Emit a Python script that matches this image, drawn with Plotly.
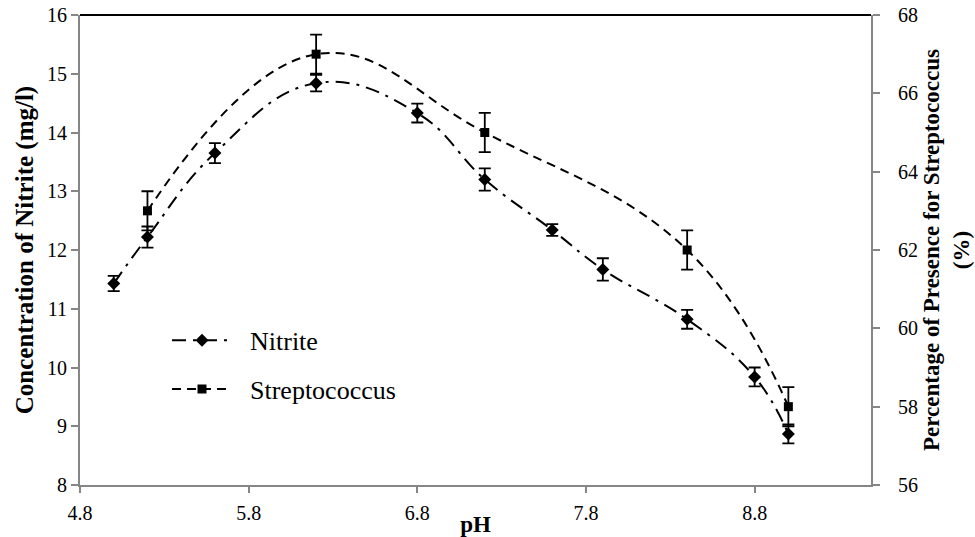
import plotly.graph_objects as go

# pH values and measurements
ph_nitrite = [5.0, 5.2, 5.6, 6.2, 6.8, 7.2, 7.6, 7.9, 8.4, 8.8, 9.0]
nitrite = [11.43, 12.22, 13.65, 14.84, 14.33, 13.20, 12.34, 11.67, 10.82, 9.84, 8.87]
nitrite_err = [0.13, 0.18, 0.17, 0.14, 0.16, 0.19, 0.10, 0.19, 0.16, 0.16, 0.16]

ph_strep = [5.2, 6.2, 7.2, 8.4, 9.0]
strep = [63.0, 67.0, 65.0, 62.0, 58.0]
strep_err = [0.5, 0.5, 0.5, 0.5, 0.5]

x_ticks = [4.8, 5.8, 6.8, 7.8, 8.8]

FONT = "Liberation Serif"
GRAY = "#868686"
PAD = "\u00a0\u00a0"  # small gap between legend symbol and label

fig = go.Figure()

fig.add_trace(go.Scatter(
    x=ph_nitrite, y=nitrite, name=PAD + "Nitrite", mode="lines+markers",
    line=dict(color="black", width=2, shape="spline", smoothing=1.2,
              dash="14px,7px,3px,7px"),
    marker=dict(symbol="diamond", size=10, color="black"),
    error_y=dict(type="data", array=nitrite_err, color="black",
                 thickness=1.8, width=6),
    legendgroup="a",
))

fig.add_trace(go.Scatter(
    x=ph_strep, y=strep, name=PAD + "Streptococcus", mode="lines+markers",
    yaxis="y2",
    line=dict(color="black", width=2, shape="spline", smoothing=1.2,
              dash="9px,6px"),
    marker=dict(symbol="square", size=9, color="black"),
    error_y=dict(type="data", array=strep_err, color="black",
                 thickness=1.8, width=6),
    legendgroup="b",
))

fig.update_layout(
    width=975, height=537,
    margin=dict(l=80, r=104, t=15, b=52),
    paper_bgcolor="white", plot_bgcolor="white",
    font=dict(family=FONT, size=20, color="black"),
    showlegend=True,
    legend=dict(x=0.11, y=0.358, xanchor="left", yanchor="top",
                bgcolor="rgba(0,0,0,0)", font=dict(family=FONT, size=26),
                itemwidth=60, tracegroupgap=12),
    xaxis=dict(
        range=[4.8, 9.49], tickvals=x_ticks, tickformat=".1f",
        showline=True, linecolor=GRAY, linewidth=2,
        ticks="outside", tickcolor=GRAY, ticklen=6, tickwidth=1.5,
        showgrid=False, zeroline=False, ticklabelstandoff=3,
        automargin=False,
        tickfont=dict(family=FONT, size=20),
        title=dict(text="<b>pH</b>", font=dict(family=FONT, size=23), standoff=4),
    ),
    yaxis=dict(
        range=[8, 16], dtick=1,
        showline=True, linecolor=GRAY, linewidth=2,
        ticks="outside", tickcolor=GRAY, ticklen=7, tickwidth=1.5,
        showgrid=False, zeroline=False, automargin=False,
        tickfont=dict(family=FONT, size=20),
        title=dict(text="<b>Concentration of Nitrite (mg/l)</b>",
                   font=dict(family=FONT, size=25), standoff=6),
    ),
    yaxis2=dict(
        range=[56, 68], dtick=2, overlaying="y", side="right",
        showline=True, linecolor=GRAY, linewidth=2,
        ticks="outside", tickcolor=GRAY, ticklen=7, tickwidth=1.5,
        showgrid=False, zeroline=False, ticklabelstandoff=14,
        automargin=False,
        tickfont=dict(family=FONT, size=20),
        title=dict(text="<b>Percentage of Presence for Streptococcus<br>(%)</b>",
                   font=dict(family=FONT, size=23), standoff=6),
    ),
    shapes=[dict(type="line", xref="paper", yref="paper", x0=0, x1=1,
                 y0=1, y1=1, line=dict(color="black", width=2))],
)

fig.write_html("out.html")
